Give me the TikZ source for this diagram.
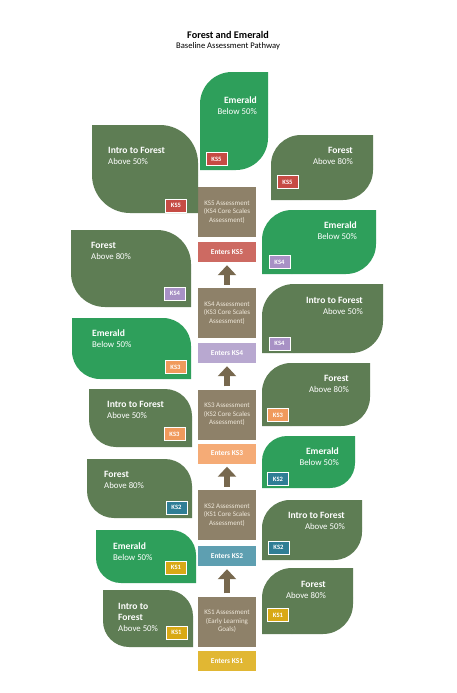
\documentclass[tikz,border=0pt]{standalone}
\usepackage{fontspec}
\setmainfont{Carlito}
\usetikzlibrary{arrows.meta, positioning, calc}

\definecolor{forest}{HTML}{5E7D54}
\definecolor{emerald}{HTML}{2E9F5B}
\definecolor{taupe}{HTML}{8E8169}
\definecolor{cream}{HTML}{EFE8DA}
\definecolor{arrowbrown}{HTML}{77684E}
% enters boxes
\definecolor{enterFive}{HTML}{CD6A62}
\definecolor{enterFour}{HTML}{B8A8D0}
\definecolor{enterThree}{HTML}{F5AB76}
\definecolor{enterTwo}{HTML}{5E9FB1}
\definecolor{enterOne}{HTML}{E1B733}
% badges
\definecolor{tagFive}{HTML}{C64B44}
\definecolor{tagFour}{HTML}{A891C5}
\definecolor{tagThree}{HTML}{F09A5C}
\definecolor{tagTwo}{HTML}{2F7E95}
\definecolor{tagOne}{HTML}{D8A915}

\newcommand{\hd}[1]{{\fontsize{9.6}{11}\selectfont\bfseries #1}}

\begin{document}
\begin{tikzpicture}[
    x=1pt, y=-1pt,
    leafbase/.style={inner sep=0pt, outer sep=0pt},
    leafL/.style 2 args={leafbase, fill=#1, rounded corners=#2,
        append after command={\pgfextra{\fill[#1] (\tikzlastnode.north west) rectangle ++(#2,-#2)
            (\tikzlastnode.south east) rectangle ++(-#2,#2);}}},
    leafR/.style 2 args={leafbase, fill=#1, rounded corners=#2,
        append after command={\pgfextra{\fill[#1] (\tikzlastnode.north east) rectangle ++(-#2,-#2)
            (\tikzlastnode.south west) rectangle ++(#2,#2);}}},
    ltxt/.style={text=white, align=left, anchor=north west, inner sep=0pt, font=\fontsize{8.8}{11}\selectfont},
    rtxt/.style={ltxt, align=right, anchor=north east},
    tag/.style={fill=#1, draw=white, line width=0.8pt, text=white, inner sep=0pt,
        minimum width=21pt, minimum height=13pt, font=\fontsize{6.6}{7}\selectfont\bfseries},
    assess/.style={fill=taupe, text=cream, align=center, inner sep=0pt, minimum width=58pt,
        minimum height=50pt, font=\fontsize{7}{8.6}\selectfont},
    enters/.style={fill=#1, text=white, inner sep=0pt, minimum width=58pt, minimum height=20pt,
        font=\fontsize{7.4}{8}\selectfont\bfseries},
    uparr/.style={draw=arrowbrown, line width=6pt, -{Triangle[width=18pt,length=10pt]},
        shorten <=3pt, shorten >=3pt}
]
\useasboundingbox[fill=white] (0,0) rectangle (457,693);

% ================= TITLE =================
\node[font=\fontsize{10.2}{12}\selectfont\bfseries] (title) at (228,35) {Forest and Emerald};
\node[font=\fontsize{8.6}{10}\selectfont] (subtitle) at (228,46) {Baseline Assessment Pathway};

% ================= CENTRE COLUMN =================
\node[assess] (assess5) at (227,212) {KS5 Assessment\\(KS4 Core Scales\\Assessment)};
\node[enters=enterFive] (enters5) at (227,252) {Enters KS5};
\node[assess] (assess4) at (227,313) {KS4 Assessment\\(KS3 Core Scales\\Assessment)};
\node[enters=enterFour] (enters4) at (227,353) {Enters KS4};
\node[assess] (assess3) at (227,414.5) {KS3 Assessment\\(KS2 Core Scales\\Assessment)};
\node[enters=enterThree] (enters3) at (227,453.5) {Enters KS3};
\node[assess] (assess2) at (227,515) {KS2 Assessment\\(KS1 Core Scales\\Assessment)};
\node[enters=enterTwo] (enters2) at (227,556) {Enters KS2};
\node[assess] (assess1) at (227,621.5) {KS1 Assessment\\(Early Learning\\Goals)};
\node[enters=enterOne] (enters1) at (227,661) {Enters KS1};

% arrows up the column
\draw[uparr] (assess4) -- (enters5);
\draw[uparr] (assess3) -- (enters4);
\draw[uparr] (assess2) -- (enters3);
\draw[uparr] (assess1) -- (enters2);

% ================= LEFT LEAVES =================
\node[leafL={forest}{38pt}, minimum width=106pt, minimum height=88pt] (introL5) at (145,169) {};
\node[ltxt] (tIntroL5) at (108,147.5) {\hd{Intro to Forest}\\Above 50\%};
\node[tag=tagFive] (bIntroL5) at (176,205.5) {KS5};

\node[leafL={forest}{34pt}, minimum width=120pt, minimum height=77pt] (forestL4) at (131,268.5) {};
\node[ltxt] (tForestL4) at (91,242.5) {\hd{Forest}\\Above 80\%};
\node[tag=tagFour] (bForestL4) at (175,293.5) {KS4};

\node[leafL={emerald}{28pt}, minimum width=119pt, minimum height=61pt] (emeraldL3) at (131.5,348.5) {};
\node[ltxt] (tEmeraldL3) at (92,329.5) {\hd{Emerald}\\Below 50\%};
\node[tag=tagThree] (bEmeraldL3) at (175.5,367) {KS3};

\node[leafL={forest}{27pt}, minimum width=103pt, minimum height=58pt] (introL3) at (140.5,418) {};
\node[ltxt] (tIntroL3) at (107,401.5) {\hd{Intro to Forest}\\Above 50\%};
\node[tag=tagThree] (bIntroL3) at (174.5,434) {KS3};

\node[leafL={forest}{27pt}, minimum width=105pt, minimum height=59pt] (forestL2) at (139.5,488.5) {};
\node[ltxt] (tForestL2) at (104,471.5) {\hd{Forest}\\Above 80\%};
\node[tag=tagTwo] (bForestL2) at (176.5,507.5) {KS2};

\node[leafL={emerald}{25pt}, minimum width=100pt, minimum height=53pt] (emeraldL1) at (146,556.5) {};
\node[ltxt] (tEmeraldL1) at (113,542.5) {\hd{Emerald}\\Below 50\%};
\node[tag=tagOne] (bEmeraldL1) at (176,567.5) {KS1};

\node[leafL={forest}{26pt}, minimum width=90pt, minimum height=57pt] (introL1) at (148,618.5) {};
\node[ltxt] (tIntroL1) at (118,603.5) {\hd{Intro to}\\\hd{Forest}\\Above 50\%};
\node[tag=tagOne] (bIntroL1) at (176.5,632.5) {KS1};

% ================= RIGHT LEAVES =================
\node[leafR={emerald}{32pt}, minimum width=68pt, minimum height=98pt] (emeraldR5) at (234,121) {};
\node[rtxt] (tEmeraldR5) at (257,96.5) {\hd{Emerald}\\Below 50\%};
\node[tag=tagFive] (bEmeraldR5) at (216.5,159) {KS5};

\node[leafR={forest}{30pt}, minimum width=102pt, minimum height=65pt] (forestR5) at (322,167.5) {};
\node[rtxt] (tForestR5) at (353,147.5) {\hd{Forest}\\Above 80\%};
\node[tag=tagFive] (bForestR5) at (287.5,182) {KS5};

\node[leafR={emerald}{30pt}, minimum width=114pt, minimum height=64pt] (emeraldR4) at (319,242) {};
\node[rtxt] (tEmeraldR4) at (357,221.5) {\hd{Emerald}\\Below 50\%};
\node[tag=tagFour] (bEmeraldR4) at (279.5,262) {KS4};

\node[leafR={forest}{32pt}, minimum width=121pt, minimum height=69pt] (introR4) at (322.5,318.5) {};
\node[rtxt] (tIntroR4) at (363,297.5) {\hd{Intro to Forest}\\Above 50\%};
\node[tag=tagFour] (bIntroR4) at (279.5,343.5) {KS4};

\node[leafR={forest}{29pt}, minimum width=108pt, minimum height=63pt] (forestR3) at (316,394.5) {};
\node[rtxt] (tForestR3) at (349,375.5) {\hd{Forest}\\Above 80\%};
\node[tag=tagThree] (bForestR3) at (278,415) {KS3};

\node[leafR={emerald}{25pt}, minimum width=93pt, minimum height=52pt] (emeraldR2) at (308.5,462) {};
\node[rtxt] (tEmeraldR2) at (339,447.5) {\hd{Emerald}\\Below 50\%};
\node[tag=tagTwo] (bEmeraldR2) at (278,479) {KS2};

\node[leafR={forest}{28pt}, minimum width=100pt, minimum height=60pt] (introR2) at (312,530) {};
\node[rtxt] (tIntroR2) at (345,512.5) {\hd{Intro to Forest}\\Above 50\%};
\node[tag=tagTwo] (bIntroR2) at (278.5,547.5) {KS2};

\node[leafR={forest}{30pt}, minimum width=91pt, minimum height=66pt] (forestR1) at (307.5,601) {};
\node[rtxt] (tForestR1) at (326,581.5) {\hd{Forest}\\Above 80\%};
\node[tag=tagOne] (bForestR1) at (278,615) {KS1};

\end{tikzpicture}
\end{document}
